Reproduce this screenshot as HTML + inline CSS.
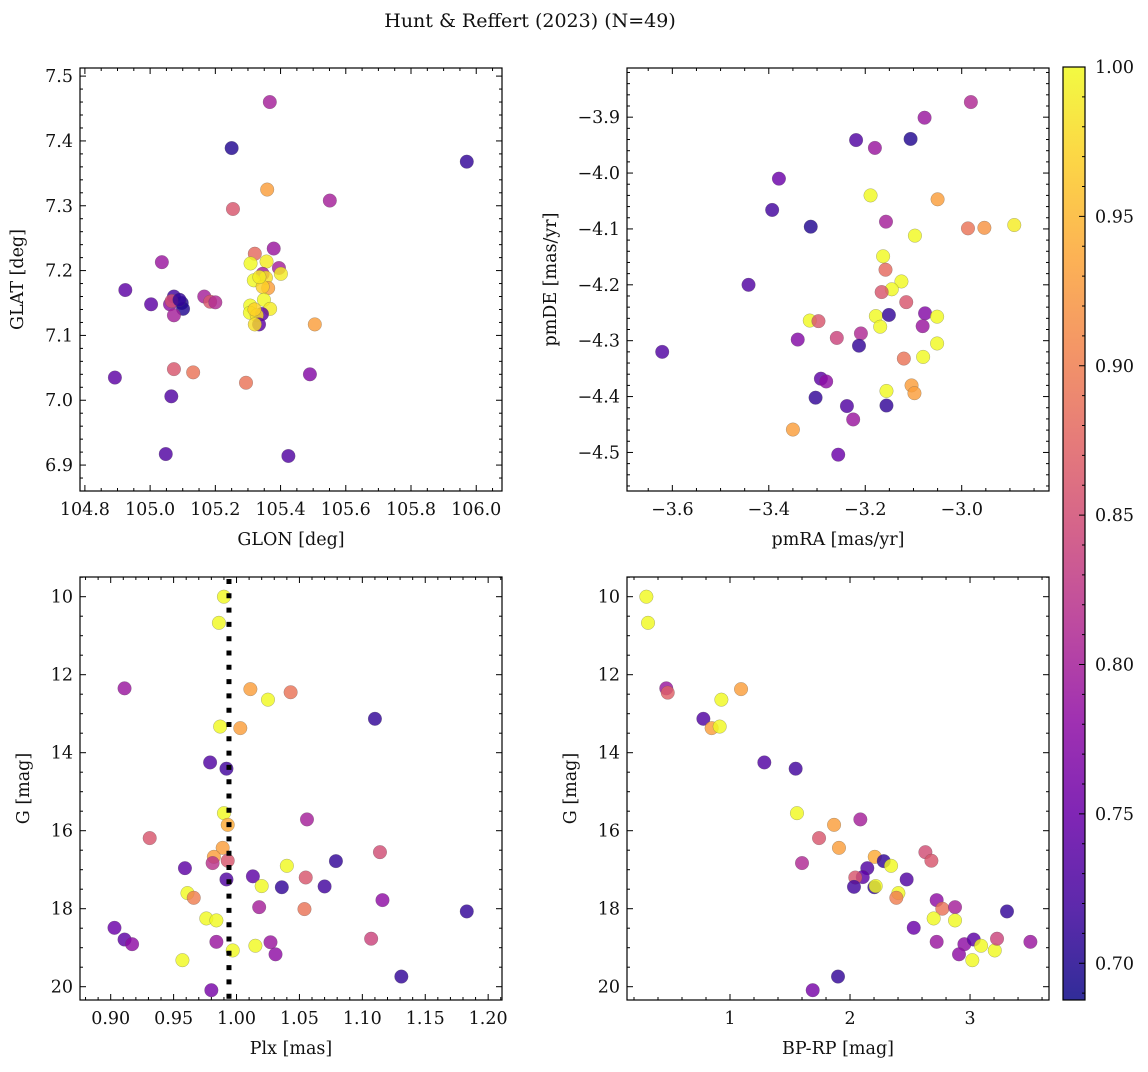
<!DOCTYPE html>
<html><head><meta charset="utf-8"><style>
body{margin:0;background:#fff;}
svg text{font-family:"DejaVu Serif","Liberation Serif",serif;fill:#111;}
</style></head><body>
<svg id="fig" width="1148" height="1067" viewBox="0 0 1148 1067" xmlns="http://www.w3.org/2000/svg">
<text x="530" y="27" font-size="19" text-anchor="middle">Hunt &amp; Reffert (2023) (N=49)</text>
<defs><linearGradient id="plasma" x1="0" y1="1" x2="0" y2="0"></linearGradient></defs>
</svg>
<script>
// ---- data ----
const glon=[105.367,105.250,105.971,105.359,105.551,105.254,105.379,105.321,105.036,105.308,105.357,105.395,105.401,105.345,105.355,105.318,105.362,105.345,104.924,105.166,105.184,105.200,105.073,105.097,105.101,105.003,105.061,105.066,105.073,105.349,105.368,105.307,105.306,105.343,105.327,105.334,105.321,105.505,105.073,105.132,104.892,105.294,105.490,105.065,105.048,105.424,105.335,105.320,105.090];
const glat=[7.460,7.389,7.368,7.325,7.308,7.295,7.234,7.226,7.213,7.211,7.214,7.204,7.195,7.195,7.189,7.185,7.173,7.175,7.170,7.160,7.152,7.151,7.160,7.150,7.141,7.148,7.148,7.153,7.131,7.155,7.141,7.146,7.135,7.133,7.131,7.117,7.117,7.117,7.048,7.043,7.035,7.027,7.040,7.006,6.917,6.914,7.190,7.140,7.155];
const probA=[0.80,0.70,0.71,0.93,0.80,0.86,0.79,0.88,0.79,1.0,0.99,0.80,0.99,0.80,0.98,1.0,0.93,0.97,0.74,0.80,0.86,0.81,0.72,0.70,0.70,0.74,0.78,0.85,0.80,1.0,0.99,1.0,1.0,0.74,0.98,0.74,0.98,0.93,0.86,0.89,0.74,0.89,0.77,0.73,0.73,0.73,0.99,0.97,0.71];

const pmra=[-2.981,-3.077,-3.219,-3.106,-3.180,-3.379,-3.393,-3.313,-3.189,-3.050,-3.157,-2.987,-2.953,-2.891,-3.097,-3.442,-3.163,-3.158,-3.125,-3.145,-3.166,-3.115,-3.178,-3.151,-3.076,-3.051,-3.315,-3.297,-3.169,-3.081,-3.340,-3.259,-3.209,-3.213,-3.621,-3.051,-3.080,-3.120,-3.292,-3.281,-3.156,-3.104,-3.098,-3.303,-3.238,-3.156,-3.225,-3.350,-3.256];
const pmde=[-3.873,-3.901,-3.941,-3.939,-3.955,-4.010,-4.066,-4.096,-4.040,-4.047,-4.087,-4.099,-4.098,-4.093,-4.112,-4.200,-4.149,-4.173,-4.194,-4.208,-4.213,-4.231,-4.256,-4.254,-4.251,-4.257,-4.264,-4.265,-4.275,-4.274,-4.298,-4.295,-4.287,-4.309,-4.320,-4.305,-4.329,-4.332,-4.368,-4.373,-4.390,-4.380,-4.394,-4.402,-4.417,-4.416,-4.441,-4.459,-4.504];
const probB=[0.81,0.79,0.73,0.70,0.79,0.75,0.72,0.70,1.0,0.93,0.80,0.89,0.92,0.99,1.0,0.73,1.0,0.88,1.0,1.0,0.86,0.86,1.0,0.71,0.77,1.0,1.0,0.86,1.0,0.79,0.77,0.84,0.81,0.71,0.73,1.0,1.0,0.89,0.74,0.78,1.0,0.93,0.93,0.71,0.73,0.71,0.79,0.93,0.75];

const plx=[0.990,0.986,0.911,1.011,1.025,1.043,1.110,0.987,1.003,0.979,0.992,0.990,0.993,1.056,0.931,1.114,0.989,0.982,0.981,0.993,0.959,1.040,1.079,0.992,1.013,1.020,1.036,1.055,1.070,0.961,0.966,1.116,1.018,1.054,1.183,0.976,0.984,0.903,0.911,0.917,0.984,0.997,1.015,1.027,1.031,1.107,0.957,1.131,0.980];
const gmagC=[10.00,10.67,12.35,12.37,12.64,12.45,13.13,13.33,13.37,14.25,14.41,15.55,15.85,15.71,16.19,16.55,16.44,16.67,16.83,16.77,16.96,16.90,16.78,17.25,17.17,17.42,17.45,17.20,17.43,17.60,17.72,17.78,17.96,18.01,18.07,18.25,18.30,18.49,18.79,18.91,18.85,19.07,18.95,18.86,19.17,18.77,19.32,19.74,20.09];
const probC=[1.0,1.0,0.79,0.93,1.0,0.89,0.71,1.0,0.93,0.73,0.72,1.0,0.94,0.80,0.86,0.85,0.93,0.93,0.82,0.86,0.74,1.0,0.71,0.73,0.74,1.0,0.71,0.86,0.72,1.0,0.90,0.78,0.80,0.89,0.71,1.0,1.0,0.75,0.74,0.78,0.79,1.0,1.0,0.79,0.78,0.84,1.0,0.71,0.76];
const plxMean=0.994;

const bprp=[0.303,0.317,0.469,0.481,0.928,1.092,0.778,0.847,0.914,1.286,1.547,1.558,1.867,2.086,1.742,1.908,1.600,2.628,2.678,2.206,2.281,2.342,2.144,2.106,2.044,2.033,2.203,2.214,2.472,2.403,2.386,2.722,2.769,2.875,3.308,2.697,2.875,2.531,2.722,2.953,3.031,3.092,3.206,3.225,3.503,2.908,3.019,1.900,1.689];
const gmagD=[10.00,10.67,12.35,12.46,12.64,12.37,13.13,13.37,13.33,14.25,14.41,15.55,15.85,15.71,16.19,16.44,16.83,16.55,16.77,16.67,16.78,16.90,16.96,17.19,17.20,17.44,17.45,17.42,17.25,17.60,17.72,17.78,18.00,17.96,18.07,18.25,18.30,18.49,18.85,18.91,18.79,18.95,19.07,18.77,18.85,19.17,19.32,19.74,20.09];
const probD=[1.0,1.0,0.79,0.87,1.0,0.93,0.73,0.93,1.0,0.73,0.72,1.0,0.93,0.80,0.86,0.93,0.81,0.85,0.86,0.94,0.71,1.0,0.73,0.74,0.86,0.72,0.71,1.0,0.73,1.0,0.90,0.78,0.89,0.80,0.71,1.0,1.0,0.75,0.79,0.78,0.74,1.0,1.0,0.84,0.79,0.78,1.0,0.71,0.76];

const cbTicks=[0.70,0.75,0.80,0.85,0.90,0.95,1.00];
const cMin=0.6877, cMax=1.0;

// ---- colormap ----
const stops=["#0d0887","#41049d","#6a00a8","#8f0da4","#b12a90","#cc4778","#e16462","#f2844b","#fca636","#fcce25","#f0f921"];
function hex(h){return [1,3,5].map(i=>parseInt(h.substr(i,2),16));}
function plasma(t){t=Math.max(0,Math.min(1,t));const f=t*10,i=Math.min(9,Math.floor(f)),u=f-i;const a=hex(stops[i]),b=hex(stops[i+1]);return `rgb(${a.map((v,k)=>Math.round(v+(b[k]-v)*u)).join(',')})`;}
function cnorm(v){return (v-cMin)/(cMax-cMin);}

const NS="http://www.w3.org/2000/svg";
const svg=document.getElementById('fig');
function mk(tag,attrs,parent){const e=document.createElementNS(NS,tag);for(const k in attrs)e.setAttribute(k,attrs[k]);(parent||svg).appendChild(e);return e;}
function fmt(v,d){const s=Math.abs(v).toFixed(d);return (v<0?"\u2212":"")+s;}
const FS=17.5;

function panel(p){
  const g=mk('g',{});
  
  
  const X=v=>p.x0+(v-p.xmin)/(p.xmax-p.xmin)*(p.x1-p.x0);
  const Y=v=>p.invert? p.y0+(v-p.ymin)/(p.ymax-p.ymin)*(p.y1-p.y0) : p.y1-(v-p.ymin)/(p.ymax-p.ymin)*(p.y1-p.y0);
  const pts=mk('g',{},g);
  
  
  for(let i=0;i<p.xs.length;i++){
    const c=mk('circle',{cx:X(p.xs[i]),cy:Y(p.ys[i]),r:6.8,fill:plasma(cnorm(p.cs[i])),'fill-opacity':0.82,stroke:'#555','stroke-width':0.4,'stroke-opacity':0.6},pts);
    
    
  }
  if(p.vline!==undefined){
    const l=mk('line',{x1:X(p.vline),x2:X(p.vline),y1:p.y0+2,y2:p.y1,stroke:'#000','stroke-width':5,'stroke-dasharray':'5,9.3'},g);
    
    
  }
  const fr=mk('rect',{x:p.x0,y:p.y0,width:p.x1-p.x0,height:p.y1-p.y0,fill:'none',stroke:'#000','stroke-width':1.2},g);
  
  
  const eps=1e-9;
  for(let v=Math.ceil(p.xmin/p.xminor-eps)*p.xminor;v<=p.xmax+eps;v+=p.xminor){
    const isMaj=Math.abs(v/p.xmajor-Math.round(v/p.xmajor))<1e-6;const L=isMaj?6:3;const x=X(v);
    mk('line',{x1:x,x2:x,y1:p.y1,y2:p.y1-L,stroke:'#000','stroke-width':1},g);
    mk('line',{x1:x,x2:x,y1:p.y0,y2:p.y0+L,stroke:'#000','stroke-width':1},g);
    if(isMaj){const t=mk('text',{x:x,y:p.y1+24,'font-size':FS,'text-anchor':'middle'},g);t.textContent=fmt(v,p.xdec);
      
      }
  }
  for(let v=Math.ceil(p.ymin/p.yminor-eps)*p.yminor;v<=p.ymax+eps;v+=p.yminor){
    const isMaj=Math.abs(v/p.ymajor-Math.round(v/p.ymajor))<1e-6;const L=isMaj?6:3;const y=Y(v);
    mk('line',{x1:p.x0,x2:p.x0+L,y1:y,y2:y,stroke:'#000','stroke-width':1},g);
    mk('line',{x1:p.x1,x2:p.x1-L,y1:y,y2:y,stroke:'#000','stroke-width':1},g);
    if(isMaj){const t=mk('text',{x:p.x0-7,y:y+6,'font-size':FS,'text-anchor':'end'},g);t.textContent=fmt(v,p.ydec);
      
      }
  }
  const xl=mk('text',{x:(p.x0+p.x1)/2,y:p.y1+54,'font-size':FS,'text-anchor':'middle'},g);xl.textContent=p.xlabel;
  
  
  const yx=p.ylx, yy=(p.y0+p.y1)/2;
  const yl=mk('text',{x:yx,y:yy,'font-size':FS,'text-anchor':'middle',transform:`rotate(-90 ${yx} ${yy})`},g);yl.textContent=p.ylabel;
  
  
}

panel({name:'position-panel',x0:80,x1:502,y0:68,y1:491,xmin:104.785,xmax:106.079,ymin:6.86,ymax:7.5125,xmajor:0.2,xminor:0.05,ymajor:0.1,yminor:0.02,xdec:1,ydec:1,xs:glon,ys:glat,cs:probA,xlabel:'GLON [deg]',ylabel:'GLAT [deg]',ylx:23});
panel({name:'proper-motion-panel',x0:627,x1:1049,y0:68,y1:491,xmin:-3.694,xmax:-2.819,ymin:-4.569,ymax:-3.812,xmajor:0.2,xminor:0.05,ymajor:0.1,yminor:0.02,xdec:1,ydec:1,xs:pmra,ys:pmde,cs:probB,xlabel:'pmRA [mas/yr]',ylabel:'pmDE [mas/yr]',ylx:556});
panel({name:'parallax-panel',x0:80,x1:502,y0:577,y1:1000,xmin:0.8756,xmax:1.2110,ymin:9.495,ymax:20.341,invert:true,xmajor:0.05,xminor:0.01,ymajor:2,yminor:0.5,xdec:2,ydec:0,xs:plx,ys:gmagC,cs:probC,vline:plxMean,xlabel:'Plx [mas]',ylabel:'G [mag]',ylx:29});
panel({name:'cmd-panel',x0:627,x1:1049,y0:577,y1:1000,xmin:0.1417,xmax:3.658,ymin:9.495,ymax:20.341,invert:true,xmajor:1,xminor:0.2,ymajor:2,yminor:0.5,xdec:0,ydec:0,xs:bprp,ys:gmagD,cs:probD,xlabel:'BP-RP [mag]',ylabel:'G [mag]',ylx:576});

// colorbar
const grad=document.getElementById('plasma');
for(let i=0;i<=10;i++){mk('stop',{offset:(i*10)+'%','stop-color':stops[i]},grad);}
const cb=mk('g',{});


const cbx0=1063,cbx1=1085,cby0=67,cby1=1000;
const CY=v=>cby1-(v-cMin)/(cMax-cMin)*(cby1-cby0);
mk('rect',{x:cbx0,y:cby0,width:cbx1-cbx0,height:cby1-cby0,fill:'url(#plasma)','fill-opacity':0.85,stroke:'#000','stroke-width':1.2},cb);
for(let v=0.69;v<=1.0001;v+=0.01){const y=CY(v);const maj=Math.abs(v*20-Math.round(v*20))<1e-6;
  mk('line',{x1:cbx1,x2:cbx1-(maj?6:3),y1:y,y2:y,stroke:'#000','stroke-width':1},cb);}
for(let i=0;i<cbTicks.length;i++){const v=cbTicks[i];const t=mk('text',{x:cbx1+10,y:CY(v)+6,'font-size':FS},cb);t.textContent=v.toFixed(2);
  
  }
</script>
</body></html>
